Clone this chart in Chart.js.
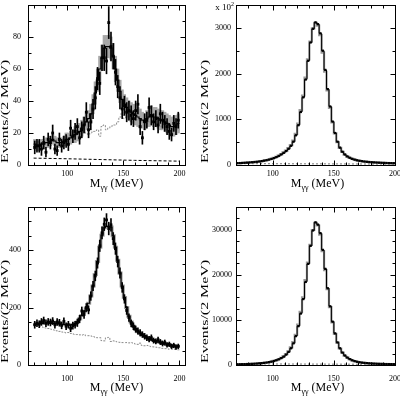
<!DOCTYPE html>
<html>
<head>
<meta charset="utf-8">
<script src="https://cdn.jsdelivr.net/npm/chart.js@4/dist/chart.umd.min.js"></script>
<style>
  html, body { margin: 0; padding: 0; background: #fff; }
  #wrap { position: relative; width: 400px; height: 400px; }
  canvas { position: absolute; }
</style>
</head>
<body>
<div id="wrap">
  <canvas id="c1" width="200" height="200" style="left:0;top:0"></canvas>
  <canvas id="c2" width="200" height="200" style="left:200px;top:0"></canvas>
  <canvas id="c3" width="200" height="200" style="left:0;top:200px"></canvas>
  <canvas id="c4" width="200" height="200" style="left:200px;top:200px"></canvas>
</div>
<script>
// M_gg bins, 2 MeV wide
const binWidth = 2;
const binCenters = [71,73,75,77,79,81,83,85,87,89,91,93,95,97,99,
  101,103,105,107,109,111,113,115,117,119,
  121,123,125,127,129,131,133,135,137,139,
  141,143,145,147,149,151,153,155,157,159,
  161,163,165,167,169,171,173,175,177,179,
  181,183,185,187,189,191,193,195,197,199];

// top left
const data1 = [11,12,12,10,14,8,16,14,20,10,9,16,12,14,15,
  13,23,18,21,24,17,22,25,33,22,
  27,35,42,54,51,67,67,65,89,74,
  68,58,49,42,35,37,33,34,31,29,
  34,38,24,17,27,28,36,31,27,29,
  25,32,28,26,24,21,19,26,24,28];
const err1 = [4,4,4,4,4,3,4,4,5,3,3,4,4,4,4,
  4,5,4,5,5,4,5,5,6,5,
  5,6,7,7,7,8,8,8,10,9,
  8,8,7,7,6,6,6,6,6,5,
  6,6,5,4,5,5,6,6,5,5,
  5,6,5,5,5,5,4,5,5,5];
const fit1 = [13,12,12,13,13,14,14,15,16,15,14,14,14,15,16,
  16,17,18,19,20,21,23,25,27,29,
  32,38,45,53,60,67,73,74,74,73,
  68,60,53,46,41,38,36,34,33,32,
  31,30,29,28,27,29,30,31,30,30,
  29,28,28,27,26,25,24,24,25,26];
const mcErr1 = [3,3,3,3,3,3,3,3,3,3,3,3,3,3,4,
  4,4,4,5,5,5,5,5,5,5,
  6,6,7,7,8,8,8,7,7,7,
  8,8,7,7,6,6,6,6,6,6,
  6,6,6,5,5,5,6,6,6,6,
  6,6,6,6,6,6,6,6,6,6];
const bg1 = [12,12,13,13,14,14,15,15,15,15,16,16,16,17,17,
  18,19,19,19,20,20,20,21,20,19,
  20,21,21,22,18,24,25,22,23,24,
  25,25,27,30,33,29,30,30,30,29,
  29,28,28,27,27,26,27,27,26,25,
  24,24,25,24,24,23,23,22,23,22];
const flatX1 = [70, 100, 130, 160, 200];
const flatY1 = [4.3, 3.9, 3.4, 2.9, 2.4];

// top right (x 10^2)
const data2 = [40,42,45,48,52,56,60,65,70,77,85,95,105,118,133,
  150,172,198,230,265,305,355,420,510,650,
  870,1160,1480,1870,2280,2680,2980,3120,3080,2880,
  2500,2080,1660,1280,950,700,510,380,290,230,
  188,158,135,117,103,92,83,76,70,65,
  61,57,54,51,48,46,44,42,40,39];
const mc2 = [38,41,44,47,51,55,59,64,70,77,86,96,107,120,136,
  154,176,203,236,274,316,368,436,532,680,
  905,1200,1520,1910,2310,2700,2990,3110,3050,2840,
  2460,2040,1630,1250,930,690,500,375,285,226,
  185,155,133,116,102,91,82,75,69,64,
  60,56,53,50,47,45,43,41,39,38];
const flatX2 = [70, 200];
const flatY2 = [30, 20];

// bottom left
const data3 = [140,145,142,150,155,145,150,148,153,140,150,147,138,152,135,
  140,128,137,140,147,160,188,176,200,192,
  240,275,310,355,415,460,490,505,475,488,
  440,405,360,320,270,230,190,165,145,135,
  125,118,112,106,100,95,90,95,85,82,
  88,80,75,78,70,72,65,68,62,65];
const err3 = [12,12,12,12,12,12,12,12,12,12,12,12,12,12,12,
  12,12,12,12,13,13,14,14,14,14,
  15,16,17,18,20,21,22,22,22,22,
  21,20,19,18,17,15,14,13,12,12,
  11,11,11,10,10,10,10,10,9,9,
  9,9,9,9,8,8,8,8,8,8];
const fit3 = [142,143,144,145,146,146,146,146,145,145,144,143,142,141,140,
  140,140,141,144,150,160,172,185,198,215,
  240,275,315,360,410,452,478,482,482,480,
  450,410,365,320,275,235,200,170,150,135,
  124,116,110,104,99,95,91,88,85,82,
  80,78,76,74,72,70,68,67,66,65];
const bg3 = [140,138,135,133,131,129,127,125,123,121,119,117,115,114,112,
  113,110,108,106,106,105,104,106,102,102,
  101,99,97,95,95,85,84,95,96,82,
  84,82,80,79,78,78,78,77,78,76,
  73,72,76,68,67,68,66,64,63,62,
  60,60,58,57,57,55,55,54,54,53];

// bottom right
const data4 = [150,160,175,190,210,230,255,285,320,360,410,470,540,630,740,
  880,1050,1260,1520,1850,2300,2900,3700,4800,6400,
  8600,11400,14600,18400,22400,26400,29800,31600,31100,29200,
  25500,21300,17000,13000,9600,7000,5000,3700,2750,2100,
  1650,1300,1050,860,720,610,525,460,410,370,
  335,305,280,260,240,225,210,200,190,180];
const mc4 = [140,152,168,185,205,226,252,282,318,360,412,475,550,645,760,
  905,1085,1305,1580,1930,2400,3040,3900,5050,6700,
  8950,11800,15000,18800,22700,26600,29900,31500,30900,28900,
  25200,21000,16800,12800,9450,6900,4950,3650,2720,2080,
  1630,1290,1040,850,715,605,520,455,405,365,
  330,300,276,256,237,222,208,198,188,178];
const flatX4 = [70, 200];
const flatY4 = [250, 150];

const xTitle = ['M', 'γγ', ' (MeV)'];
const yTitle = 'Events/(2 MeV)';

Chart.defaults.font.family = '"Liberation Serif", "Times New Roman", serif';
Chart.defaults.font.size = 8;
Chart.defaults.color = '#000';

function stepData(values) {
    let pts = binCenters.map((c, i) => ({x: c - binWidth / 2, y: values[i]}));
    pts.push({x: binCenters[binCenters.length - 1] + binWidth / 2, y: values[values.length - 1]});
    return pts;
}

function hist(values, color, width, dash, order) {
    return {type: 'line', data: stepData(values), borderColor: color, borderWidth: width,
        borderDash: dash, stepped: 'before', pointRadius: 0, fill: false, order: order};
}

function points(values, radius, order) {
    return {type: 'line', data: binCenters.map((c, i) => ({x: c, y: values[i]})), showLine: false,
        pointStyle: 'rect', pointRadius: radius, pointBackgroundColor: '#000', pointBorderWidth: 0, order: order};
}

function bars(values, errs, color, thickness, order) {
    return {type: 'bar', data: binCenters.map((c, i) => ({x: c, y: [values[i] - errs[i], values[i] + errs[i]]})),
        backgroundColor: color, borderWidth: 0, barThickness: thickness, grouped: false, order: order};
}

function line(xs, ys, color, dash, order) {
    return {type: 'line', data: xs.map((x, i) => ({x: x, y: ys[i]})), borderColor: color, borderWidth: 1,
        borderDash: dash, pointRadius: 0, fill: false, order: order};
}

// frame with inward ticks on all four sides, plus the axis titles
const frameTicks = {
    id: 'frameTicks',
    afterDatasetsDraw(chart, args, opts) {
        const {ctx, chartArea: a, scales} = chart;
        ctx.save();
        ctx.strokeStyle = '#000';
        ctx.lineWidth = 1;
        let l = Math.round(a.left) + 0.5, r = Math.round(a.right) + 0.5;
        let t = Math.round(a.top) + 0.5, b = Math.round(a.bottom) + 0.5;
        ctx.strokeRect(l, t, r - l, b - t);
        ctx.beginPath();
        for (let tk of scales.x.ticks) {
            let px = Math.round(scales.x.getPixelForValue(tk.value)) + 0.5;
            let len = tk.label !== '' ? 5 : 3;
            ctx.moveTo(px, b); ctx.lineTo(px, b - len);
            ctx.moveTo(px, t); ctx.lineTo(px, t + len);
        }
        for (let tk of scales.y.ticks) {
            let py = Math.round(scales.y.getPixelForValue(tk.value)) + 0.5;
            let len = tk.label !== '' ? 5 : 3;
            ctx.moveTo(l, py); ctx.lineTo(l + len, py);
            ctx.moveTo(r, py); ctx.lineTo(r - len, py);
        }
        ctx.stroke();

        ctx.fillStyle = '#000';
        ctx.textAlign = 'left';
        ctx.textBaseline = 'alphabetic';
        const big = '12px "Liberation Serif"', small = '8px "Liberation Serif"';
        ctx.font = big;
        let w1 = ctx.measureText(xTitle[0]).width, w3 = ctx.measureText(xTitle[2]).width;
        ctx.font = small;
        let w2 = ctx.measureText(xTitle[1]).width;
        let x0 = (a.left + a.right) / 2 + opts.shift - (w1 + w2 + w3) / 2;
        let y0 = a.bottom + opts.titleY;
        ctx.font = big;
        ctx.fillText(xTitle[0], x0, y0);
        ctx.fillText(xTitle[2], x0 + w1 + w2, y0);
        ctx.font = small;
        ctx.fillText(xTitle[1], x0 + w1, y0 + 3);

        // rotated y title, stretched along its length like the original
        ctx.save();
        ctx.translate(5.5, a.bottom - 2);
        ctx.rotate(-Math.PI / 2);
        ctx.scale(1.45, 1);
        ctx.font = '11px "Liberation Serif"';
        ctx.textBaseline = 'middle';
        ctx.fillText(yTitle, 0, 0);
        ctx.restore();

        if (opts.power) {
            ctx.font = '9px "Liberation Serif"';
            let wb = ctx.measureText('x 10').width;
            ctx.font = '6px "Liberation Serif"';
            let ws = ctx.measureText(opts.power).width;
            let xs = a.left - 2 - ws - wb;
            ctx.font = '9px "Liberation Serif"';
            ctx.fillText('x 10', xs, 10);
            ctx.font = '6px "Liberation Serif"';
            ctx.fillText(opts.power, xs + wb, 6);
        }
        ctx.restore();
    }
};

function makePanel(id, p) {
    return new Chart(document.getElementById(id), {
        type: 'line',
        data: {datasets: p.datasets},
        options: {
            responsive: false,
            animation: false,
            devicePixelRatio: 1,
            events: [],
            layout: {padding: {left: 0, right: p.padRight, top: p.padTop, bottom: 0}},
            plugins: {
                legend: {display: false},
                tooltip: {enabled: false},
                frameTicks: {shift: p.titleShift, titleY: p.titleY, power: p.power}
            },
            scales: {
                x: {
                    type: 'linear', min: 70, max: 200,
                    grid: {display: false, drawTicks: false}, border: {display: false},
                    ticks: {stepSize: 10, autoSkip: false, maxRotation: 0, padding: p.xPad,
                        callback: v => (v >= 100 && v % 50 === 0) ? v : ''},
                    afterFit: s => { s.height = 35; s.paddingLeft = 0; s.paddingRight = 0; }
                },
                y: {
                    type: 'linear', min: 0, max: p.yMax,
                    grid: {display: false, drawTicks: false}, border: {display: false},
                    ticks: {stepSize: p.yStep, autoSkip: false, padding: p.yPad,
                        callback: v => (v % p.yLabelStep === 0 && v !== p.yMax) ? v : ''},
                    afterFit: s => { s.width = p.yWidth; s.paddingTop = 0; s.paddingBottom = 0; }
                }
            }
        },
        plugins: [frameTicks]
    });
}

makePanel('c1', {
    padRight: 15, padTop: 5, yWidth: 28, yMax: 100, yStep: 10, yLabelStep: 20, yPad: 7,
    xPad: 4, titleY: 22, titleShift: 10,
    datasets: [
        points(data1, 2, 0),
        bars(data1, err1, '#000', 1, 1),
        hist(fit1, '#000', 1.2, [], 2),
        hist(bg1, '#8a8a8a', 1, [2, 1.5], 3),
        line(flatX1, flatY1, '#000', [3, 2], 3),
        bars(fit1, mcErr1, '#a8a8a8', 2.5, 4)
    ]
});

makePanel('c2', {
    padRight: 5, padTop: 5, yWidth: 36, yMax: 3500, yStep: 500, yLabelStep: 1000, yPad: 5,
    xPad: 4, titleY: 22, titleShift: 2, power: '2',
    datasets: [
        points(data2, 1.6, 0),
        hist(data2, '#000', 1, [], 1),
        hist(mc2, '#9a9a9a', 2.2, [], 2),
        line(flatX2, flatY2, '#777', [2, 2], 3)
    ]
});

makePanel('c3', {
    padRight: 15, padTop: 7, yWidth: 28, yMax: 550, yStep: 50, yLabelStep: 200, yPad: 7,
    xPad: 9, titleY: 26, titleShift: 10,
    datasets: [
        points(data3, 2, 0),
        bars(data3, err3, '#000', 1, 1),
        hist(fit3, '#000', 1.1, [], 2),
        hist(fit3, '#a0a0a0', 3, [], 3),
        hist(bg3, '#8a8a8a', 1, [2, 1.5], 4)
    ]
});

makePanel('c4', {
    padRight: 5, padTop: 7, yWidth: 36, yMax: 35000, yStep: 2500, yLabelStep: 10000, yPad: 4,
    xPad: 9, titleY: 26, titleShift: 2,
    datasets: [
        points(data4, 1.6, 0),
        hist(data4, '#000', 1, [], 1),
        hist(mc4, '#9a9a9a', 2.2, [], 2),
        line(flatX4, flatY4, '#777', [2, 2], 3)
    ]
});
</script>
</body>
</html>
